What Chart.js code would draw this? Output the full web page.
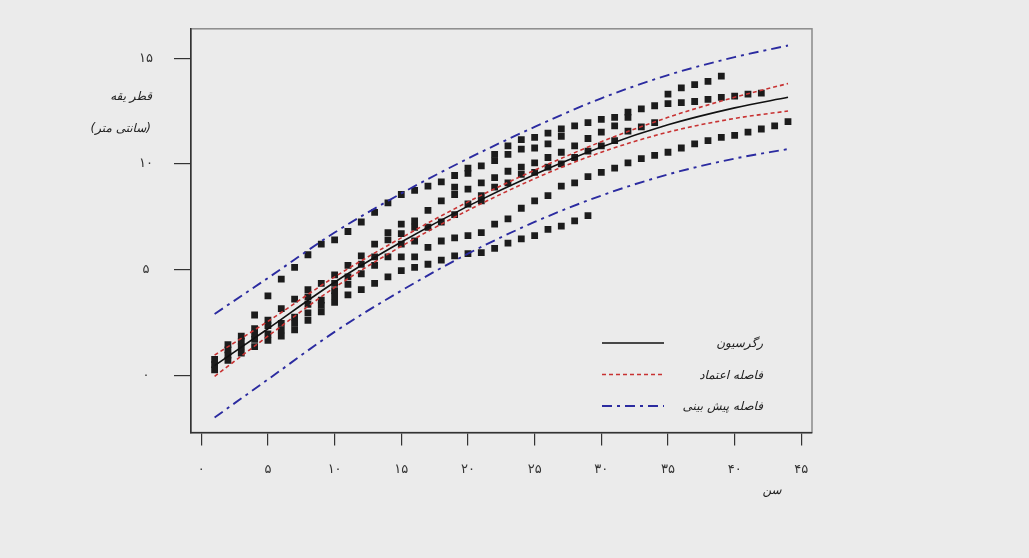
<!DOCTYPE html>
<html>
<head>
<meta charset="utf-8">
<script src="https://cdn.jsdelivr.net/npm/chart.js@4.4.1/dist/chart.umd.min.js"></script>
<style>
  html, body { margin: 0; padding: 0; background: #ebebeb; }
  #wrap { width: 1029px; height: 558px; position: relative; }
</style>
</head>
<body>
<div id="wrap"><canvas id="chart" width="1029" height="558"></canvas></div>
<script>
// Observed collar diameter (cm) by tree age (years)
const ages = [1,2,3,4,5,6,7,8,9,10,11,12,13,14,15,16,17,18,19,20,21,22,23,24,25,26,27,28,29,30,31,32,33,34,35,36,37,38,39,40,41,42,43,44];
const diameterByAge = [
  [0.25, 0.5, 0.75],
  [0.7, 0.95, 1.2, 1.45],
  [1.05, 1.35, 1.6, 1.85],
  [1.35, 1.7, 1.95, 2.2, 2.85],
  [1.65, 1.95, 2.35, 2.6, 3.75],
  [1.85, 2.15, 2.45, 3.15, 4.55],
  [2.15, 2.45, 2.75, 3.6, 5.1],
  [2.6, 2.95, 3.35, 3.7, 4.05, 5.7],
  [3.0, 3.3, 3.55, 4.35, 6.2],
  [3.45, 3.75, 4.0, 4.35, 4.75, 6.4],
  [3.8, 4.3, 4.65, 5.2, 6.8],
  [4.05, 4.8, 5.25, 5.65, 7.25],
  [4.35, 5.2, 5.6, 6.2, 7.7],
  [4.65, 5.6, 6.4, 6.75, 8.15],
  [4.95, 5.6, 6.2, 6.7, 7.15, 8.55],
  [5.1, 5.6, 6.35, 7.0, 7.3, 8.75],
  [5.25, 6.05, 7.0, 7.8, 8.95],
  [5.45, 6.35, 7.25, 8.25, 9.15],
  [5.65, 6.5, 7.6, 8.55, 8.9, 9.45],
  [5.75, 6.6, 8.1, 8.8, 9.55, 9.8],
  [5.8, 6.75, 8.25, 8.5, 9.1, 9.9],
  [6.0, 7.15, 8.9, 9.35, 10.15, 10.45],
  [6.25, 7.4, 9.1, 9.65, 10.45, 10.85],
  [6.45, 7.9, 9.5, 9.85, 10.7, 11.15],
  [6.6, 8.25, 9.6, 10.05, 10.75, 11.25],
  [6.9, 8.5, 9.85, 10.3, 10.95, 11.45],
  [7.05, 8.95, 10.0, 10.55, 11.3, 11.65],
  [7.3, 9.1, 10.3, 10.85, 11.8],
  [7.55, 9.4, 10.6, 11.2, 11.95],
  [9.6, 10.85, 11.5, 12.1],
  [9.8, 11.1, 11.8, 12.2],
  [10.05, 11.55, 12.2, 12.45],
  [10.25, 11.75, 12.6],
  [10.4, 11.95, 12.75],
  [10.55, 12.85, 13.3],
  [10.75, 12.9, 13.6],
  [10.95, 12.95, 13.75],
  [11.1, 13.05, 13.9],
  [11.25, 13.15, 14.15],
  [11.35, 13.2],
  [11.5, 13.3],
  [11.65, 13.35],
  [11.8],
  [12.0]
];

// Fitted regression curve with its confidence and prediction limits
const curveAges       = [1, 5, 10, 15, 20, 25, 30, 35, 40, 44];
const regression      = [0.45, 2.2, 4.4, 6.3, 8.0, 9.5, 10.8, 11.85, 12.65, 13.15];
const confidenceUpper = [0.95, 2.55, 4.65, 6.5, 8.2, 9.7, 11.05, 12.2, 13.15, 13.8];
const confidenceLower = [-0.05, 1.85, 4.15, 6.1, 7.8, 9.3, 10.55, 11.5, 12.15, 12.5];
const predictionUpper = [2.9, 4.6, 6.75, 8.6, 10.25, 11.75, 13.1, 14.2, 15.05, 15.6];
const predictionLower = [-2.0, -0.2, 2.05, 4.0, 5.75, 7.25, 8.5, 9.5, 10.25, 10.7];

// Axis ticks (Persian numerals)
const xTicks = [0, 5, 10, 15, 20, 25, 30, 35, 40, 45];
const xTickLabels = ['۰', '۵', '۱۰', '۱۵', '۲۰', '۲۵', '۳۰', '۳۵', '۴۰', '۴۵'];
const yTicks = [0, 5, 10, 15];
const yTickLabels = ['۰', '۵', '۱۰', '۱۵'];

const seriesLabels = ['رگرسیون', 'فاصله اعتماد', 'فاصله پیش بینی'];
const xTitle = 'سن';
const yTitleLines = ['قطر یقه', '(سانتی متر)'];

const FONT = "'DejaVu Sans', sans-serif";
const BG = '#ebebeb';

const toPoints = (xs, ys) => xs.map((x, i) => ({ x: x, y: ys[i] }));
const observations = [];
ages.forEach((a, i) => diameterByAge[i].forEach(d => observations.push({ x: a, y: d })));

const lineStyles = [
  { color: '#111111', width: 1.6, dash: [] },
  { color: '#c83232', width: 1.6, dash: [4, 3] },
  { color: '#2b2ba0', width: 1.9, dash: [10, 5, 3, 5] }
];

const curve = (label, ys, style) => ({
  label: label,
  data: toPoints(curveAges, ys),
  showLine: true,
  pointRadius: 0,
  borderColor: style.color,
  borderWidth: style.width,
  borderDash: style.dash,
  cubicInterpolationMode: 'monotone',
  fill: false
});

// Box around the plotting region, drawn under the axes
const framePlugin = {
  id: 'frame',
  beforeDraw(chart) {
    const { ctx, chartArea: a } = chart;
    ctx.save();
    ctx.fillStyle = BG;
    ctx.fillRect(0, 0, chart.width, chart.height);
    ctx.strokeStyle = '#8a8a8a';
    ctx.lineWidth = 1.5;
    ctx.strokeRect(a.left, a.top, a.right - a.left, a.bottom - a.top);
    ctx.restore();
  }
};

// Axis titles and the key in the lower right of the plot
const textPlugin = {
  id: 'texts',
  afterDraw(chart) {
    const { ctx, chartArea: a } = chart;
    ctx.save();
    ctx.direction = 'rtl';
    ctx.fillStyle = '#222';
    ctx.textBaseline = 'middle';
    ctx.font = 'italic 12px ' + FONT;
    ctx.textAlign = 'right';
    ctx.fillText(yTitleLines[0], a.left - 39, a.top + 68);
    ctx.fillText(yTitleLines[1], a.left - 40, a.top + 100);
    ctx.textAlign = 'center';
    ctx.fillText(xTitle, a.right - 40, a.bottom + 58);

    const rows = [343, 374.5, 406];
    rows.forEach((y, i) => {
      const s = lineStyles[i];
      ctx.strokeStyle = s.color;
      ctx.lineWidth = s.width;
      ctx.setLineDash(s.dash);
      ctx.beginPath();
      ctx.moveTo(602, y);
      ctx.lineTo(664, y);
      ctx.stroke();
      ctx.setLineDash([]);
      ctx.fillStyle = '#222';
      ctx.textAlign = 'right';
      ctx.fillText(seriesLabels[i], 763, y + 1);
    });
    ctx.restore();
  }
};

new Chart(document.getElementById('chart'), {
  type: 'scatter',
  data: {
    datasets: [
      curve(seriesLabels[0], regression, lineStyles[0]),
      curve(seriesLabels[1], confidenceUpper, lineStyles[1]),
      curve(seriesLabels[1], confidenceLower, lineStyles[1]),
      curve(seriesLabels[2], predictionUpper, lineStyles[2]),
      curve(seriesLabels[2], predictionLower, lineStyles[2]),
      {
        label: 'observations',
        data: observations,
        pointStyle: 'rect',
        pointRadius: 4.8,
        pointBackgroundColor: '#1c1c1c',
        pointBorderColor: '#1c1c1c',
        pointBorderWidth: 0,
        showLine: false
      }
    ]
  },
  options: {
    responsive: false,
    animation: false,
    devicePixelRatio: 1,
    layout: { padding: { left: 0, top: 27.5, right: 217, bottom: 0 } },
    plugins: { legend: { display: false }, tooltip: { enabled: false } },
    scales: {
      x: {
        type: 'linear',
        min: -0.77,
        max: 45.8,
        afterFit(s) { s.height = 125.5; },
        afterBuildTicks(s) { s.ticks = xTicks.map(v => ({ value: v })); },
        grid: { drawOnChartArea: false, drawTicks: true, tickLength: 13, color: '#333', lineWidth: 1.2 },
        border: { display: true, color: '#333', width: 1.5 },
        ticks: {
          autoSkip: false, maxRotation: 0, padding: 16,
          color: '#333', font: { family: FONT, size: 13 },
          callback: v => xTickLabels[xTicks.indexOf(v)]
        }
      },
      y: {
        type: 'linear',
        min: -2.71,
        max: 16.39,
        afterFit(s) { s.width = 191; },
        afterBuildTicks(s) { s.ticks = yTicks.map(v => ({ value: v })); },
        grid: { drawOnChartArea: false, drawTicks: true, tickLength: 17, color: '#333', lineWidth: 1.2 },
        border: { display: true, color: '#333', width: 1.5 },
        ticks: {
          autoSkip: false, padding: 21, crossAlign: 'center',
          color: '#333', font: { family: FONT, size: 13 },
          callback: v => yTickLabels[yTicks.indexOf(v)]
        }
      }
    }
  },
  plugins: [framePlugin, textPlugin]
});
</script>
</body>
</html>
